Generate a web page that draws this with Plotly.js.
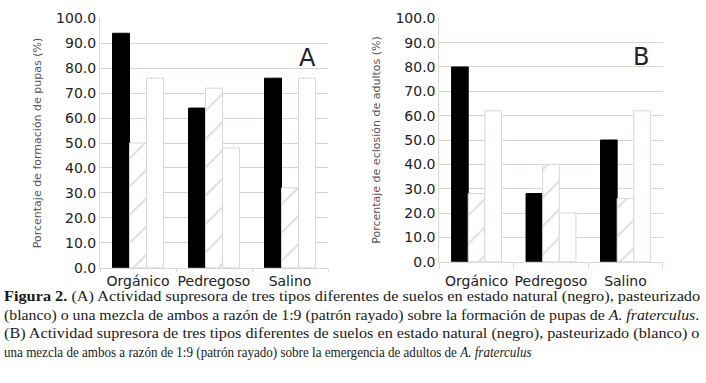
<!DOCTYPE html>
<html><head><meta charset="utf-8">
<script src="https://cdn.plot.ly/plotly-3.0.1.min.js"></script>
<style>html,body{margin:0;padding:0;background:#fff;} #chart{width:706px;height:383px;}</style>
</head><body><div id="chart"></div>
<script>
const categories = ['Orgánico', 'Pedregoso', 'Salino'];
const pupasNatural = [94, 64, 76];
const pupasMezcla = [50, 72, 32];
const pupasPasteurizado = [76, 48, 76];
const adultosNatural = [80, 28, 50];
const adultosMezcla = [28, 40, 26];
const adultosPasteurizado = [62, 20, 62];
const yTicks = [0, 10, 20, 30, 40, 50, 60, 70, 80, 90, 100];
const yTitleA = 'Porcentaje de formación de pupas (%)';
const yTitleB = 'Porcentaje de eclosión de adultos (%)';
const panelLabels = ['A', 'B'];
const captionLines = [
  '<b>Figura 2.</b> (A) Actividad supresora de tres tipos diferentes de suelos en estado natural (negro), pasteurizado',
  '(blanco) o una mezcla de ambos a razón de 1:9 (patrón rayado) sobre la formación de pupas de <i>A. fraterculus</i>.',
  '(B) Actividad supresora de tres tipos diferentes de suelos en estado natural (negro), pasteurizado (blanco) o',
  'una mezcla de ambos a razón de 1:9 (patrón rayado) sobre la emergencia de adultos de <i>A. fraterculus</i>'
];

const W = 706, H = 383;
const px = x => x / W;
const py = y => 1 - y / H;

const lightLine = '#ddd6d3';
const mNatural = {color: '#000', line: {color: '#000', width: 1}};
const mMezcla = {color: '#fff', pattern: {shape: '/', fgcolor: '#e3dedb', bgcolor: '#fff', size: 20, solidity: 0.1}, line: {color: lightLine, width: 1}};
const mPast = {color: '#fff', line: {color: lightLine, width: 1}};

function bars(name, y, marker, xa, ya) {
  return {type: 'bar', name: name, x: categories, y: y, xaxis: xa, yaxis: ya, marker: marker, showlegend: false, hoverinfo: 'skip'};
}

const data = [
  bars('Natural', pupasNatural, mNatural, 'x', 'y'),
  bars('Mezcla 1:9', pupasMezcla, mMezcla, 'x', 'y'),
  bars('Pasteurizado', pupasPasteurizado, mPast, 'x', 'y'),
  bars('Natural', adultosNatural, mNatural, 'x2', 'y2'),
  bars('Mezcla 1:9', adultosMezcla, mMezcla, 'x2', 'y2'),
  bars('Pasteurizado', adultosPasteurizado, mPast, 'x2', 'y2')
];

const tickFont = {family: 'DejaVu Sans', size: 14, color: '#222'};
const titleFont = {family: 'DejaVu Sans', size: 11, color: '#555'};

function xAxis(dom, anchor, tl, standoff) {
  return {domain: dom, anchor: anchor, type: 'category', range: [-0.5, 2.5], showgrid: false,
    showline: true, linecolor: lightLine, linewidth: 1, ticks: 'outside', tickson: 'boundaries',
    ticklen: tl, tickcolor: lightLine, tickfont: tickFont, tickangle: 0, ticklabelstandoff: standoff,
    automargin: false, fixedrange: true};
}
function yAxis(dom, anchor, title) {
  return {domain: dom, anchor: anchor, range: [0, 100], tickvals: yTicks, tickformat: '.1f',
    showgrid: true, gridcolor: '#dcd4d1', gridwidth: 1, showline: true, linecolor: lightLine,
    zeroline: false, ticks: '', tickfont: tickFont, fixedrange: true, automargin: false,
    title: {text: title, font: titleFont, standoff: 12}};
}

const annotations = [
  {text: panelLabels[0], xref: 'paper', yref: 'paper', x: px(307), y: py(58), xanchor: 'center', yanchor: 'middle', showarrow: false, font: {family: 'DejaVu Sans', size: 24, color: '#222'}},
  {text: panelLabels[1], xref: 'paper', yref: 'paper', x: px(641), y: py(57), xanchor: 'center', yanchor: 'middle', showarrow: false, font: {family: 'DejaVu Sans', size: 24, color: '#222'}}
];
const captionStart = annotations.length;
const captionY = [296, 314.5, 333, 351.5];
captionLines.forEach((t, i) => {
  annotations.push({text: t, xref: 'paper', yref: 'paper', x: px(3), y: py(captionY[i]), xanchor: 'left', yanchor: 'middle', align: 'left', showarrow: false,
    borderpad: 0, font: {family: 'Liberation Serif', size: 15.5, color: '#1a1a1a'}});
});

const layout = {
  width: W, height: H, margin: {l: 0, r: 0, t: 0, b: 0},
  paper_bgcolor: '#fff', plot_bgcolor: '#fff',
  barmode: 'group', bargap: 0.33, bargroupgap: 0,
  xaxis: xAxis([px(100), px(328)], 'y', 3, 0),
  yaxis: yAxis([py(267.7), py(18.3)], 'x', yTitleA),
  xaxis2: xAxis([px(439.3), px(662.7)], 'y2', 6, 6),
  yaxis2: yAxis([py(261.7), py(18.3)], 'x2', yTitleB),
  annotations: annotations,
  showlegend: false
};

// caption line extents measured on the reference (px)
const targetWidths = [697, 696, 696, 528];
Plotly.newPlot('chart', data, layout, {staticPlot: true, displayModeBar: false}).then(gd => {
  captionLines.forEach((_, i) => {
    const t = gd.querySelector('.annotation[data-index="' + (captionStart + i) + '"] text.annotation-text');
    if (!t) return;
    const natural = t.getComputedTextLength();
    if (!natural) return;
    const f = targetWidths[i] / natural;
    const x0 = parseFloat(t.getAttribute('x')) || 0;
    t.setAttribute('transform', 'translate(' + x0 + ' 0) scale(' + f + ' 1) translate(' + (-x0) + ' 0)');
  });
});
</script></body></html>
